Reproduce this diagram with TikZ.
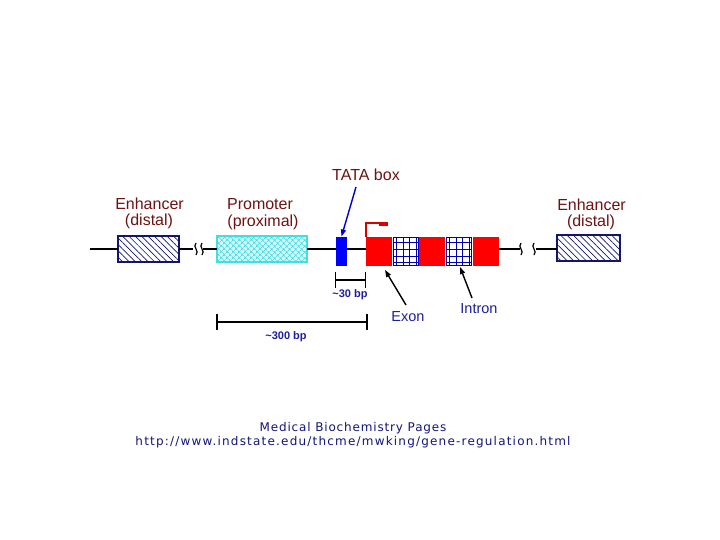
\documentclass[tikz,border=0pt]{standalone}
\usepackage{fontspec}
\setmainfont{Liberation Sans}
\newfontfamily\footfont[LetterSpace=7]{DejaVu Sans}
\newfontfamily\urlfont[LetterSpace=10]{DejaVu Sans}
\usetikzlibrary{patterns.meta,arrows.meta}
\definecolor{lblred}{HTML}{6E1212}
\definecolor{lblblue}{HTML}{1E1E9C}
\definecolor{navyb}{HTML}{14146E}
\definecolor{footblue}{HTML}{14147A}
\definecolor{promcyan}{HTML}{40E0E0}
\begin{document}
\begin{tikzpicture}[x=1pt,y=-1pt,
  every node/.style={inner sep=0pt,outer sep=0pt},
  lbl/.style={font=\fontsize{16}{16}\selectfont,text=lblred},
  blbl/.style={font=\fontsize{14.5}{14.5}\selectfont,text=lblblue},
  bplbl/.style={font=\fontsize{11}{11}\selectfont\bfseries,text=lblblue},
  foot/.style={font=\footfont\fontsize{12}{12}\selectfont,text=footblue},
  urlf/.style={font=\urlfont\fontsize{12}{12}\selectfont,text=footblue},
  dna/.style={draw=black,line width=2pt},
  enh/.style={draw=navyb,line width=1.8pt,fill=white,pattern={Lines[angle=-45,distance=4.5pt,line width=0.7pt]},pattern color=navyb,minimum width=61pt,minimum height=26pt},
  prom/.style={draw=promcyan,line width=1.8pt,preaction={fill=cyan!12},pattern={Hatch[angle=45,distance=4pt,line width=0.7pt]},pattern color=promcyan,minimum width=90pt,minimum height=26pt},
  exon/.style={fill=red,minimum width=26pt,minimum height=29pt},
  intr/.style={draw=blue!70!black,line width=0.8pt,fill=white,minimum width=25pt,minimum height=28pt},
  pointer/.style={line width=1.4pt,-{Triangle[length=7pt,width=5pt]}},
  brk/.style={line width=1.2pt},
  scalebar/.style={line width=1.6pt}
]
\useasboundingbox (0,0) rectangle (720,540);

% elements
\coordinate (start) at (90,249);
\node[enh] (enhL) at (148.5,249) {};
\coordinate (bL1) at (193,249);
\coordinate (bL2) at (203,249);
\node[prom] (prom) at (262,249) {};
\node[fill=blue,minimum width=11pt,minimum height=29pt] (tata) at (341.5,251) {};
\node[exon] (ex1) at (379,251) {};
\node[intr] (in1) at (405.5,251) {};
\node[exon] (ex2) at (432,251) {};
\node[intr] (in2) at (459,251) {};
\node[exon] (ex3) at (486,251) {};
\coordinate (bR1) at (520,249);
\coordinate (bR2) at (536,249);
\node[enh,minimum width=63pt] (enhR) at (588.5,248) {};

% intron grids
\foreach \n in {in1,in2}{
  \foreach \dx in {3,10,16,23}{
    \draw[blue!70!black,line width=0.8pt] ([xshift=\dx pt]\n.north west) -- ([xshift=\dx pt]\n.south west);
  }
  \foreach \dy in {5,12,19,25}{
    \draw[blue!70!black,line width=0.8pt] ([yshift=-\dy pt]\n.north west) -- ([yshift=-\dy pt]\n.north east);
  }
}

% backbone
\draw[dna] (start) -- (enhL.west);
\draw[dna] (enhL.east) -- (bL1);
\draw[dna] (bL2) -- (prom.west);
\draw[dna] (prom.east) -- (tata.west |- start);
\draw[dna] (tata.east |- start) -- (ex1.west |- start);
\draw[dna] (ex3.east |- start) -- (bR1);
\draw[dna] (bR2) -- (enhR.west |- start);

% break marks
\foreach \x in {196,202,521,534}{
  \draw[brk] (\x,243) .. controls (\x-4,247) and (\x+4,251) .. (\x,255);
}

% transcription start
\coordinate (tss1) at (366,223);
\coordinate (tss2) at (388,223);
\draw[red!85!black,line width=1.5pt] (ex1.north west) -- (tss1) -- (tss2);
\fill[red!85!black] (379,222) rectangle (388,226.5);

% labels
\node[lbl] (enhLt1) at (149.5,204) {Enhancer};
\node[lbl] (enhLt2) at (149,221) {(distal)};
\node[lbl] (promt1) at (260,204.5) {Promoter};
\node[lbl] (promt2) at (263,222) {(proximal)};
\node[lbl] (enhRt1) at (591.5,204.5) {Enhancer};
\node[lbl] (enhRt2) at (591,222) {(distal)};
\node[lbl] (tatat) at (366,175) {TATA box};

\coordinate (tataTail) at (356,187);
\draw[pointer,blue!80!black] (tataTail) -- (tata.north);

\node[blbl] (exont) at (408,317) {Exon};
\node[blbl] (intront) at (479,309) {Intron};
\coordinate (exHead) at (385,270);
\coordinate (inHead) at (460,267);
\draw[pointer,black] (406,305) -- (exHead);
\draw[pointer,black] (472,298) -- (inHead);

% scale bars
\coordinate (s30a) at (335.5,280);
\coordinate (s30b) at (365.5,280);
\draw[line width=1.1pt] (s30a) -- (s30b);
\draw[line width=1.1pt] (335.5,272) -- (335.5,288);
\draw[line width=1.1pt] (365.5,272) -- (365.5,288);
\node[bplbl] (s30t) at (350,295) {\textasciitilde30 bp};

\coordinate (s300a) at (217,322);
\coordinate (s300b) at (367,322);
\draw[scalebar] (s300a) -- (s300b);
\draw[scalebar] (217,314) -- (217,330);
\draw[scalebar] (367,314) -- (367,330);
\node[bplbl] (s300t) at (286,337) {\textasciitilde300 bp};

% footer
\node[foot] (f1) at (353,428) {Medical Biochemistry Pages};
\node[urlf] (f2) at (353,442) {http://www.indstate.edu/thcme/mwking/gene-regulation.html};
\end{tikzpicture}
\end{document}
